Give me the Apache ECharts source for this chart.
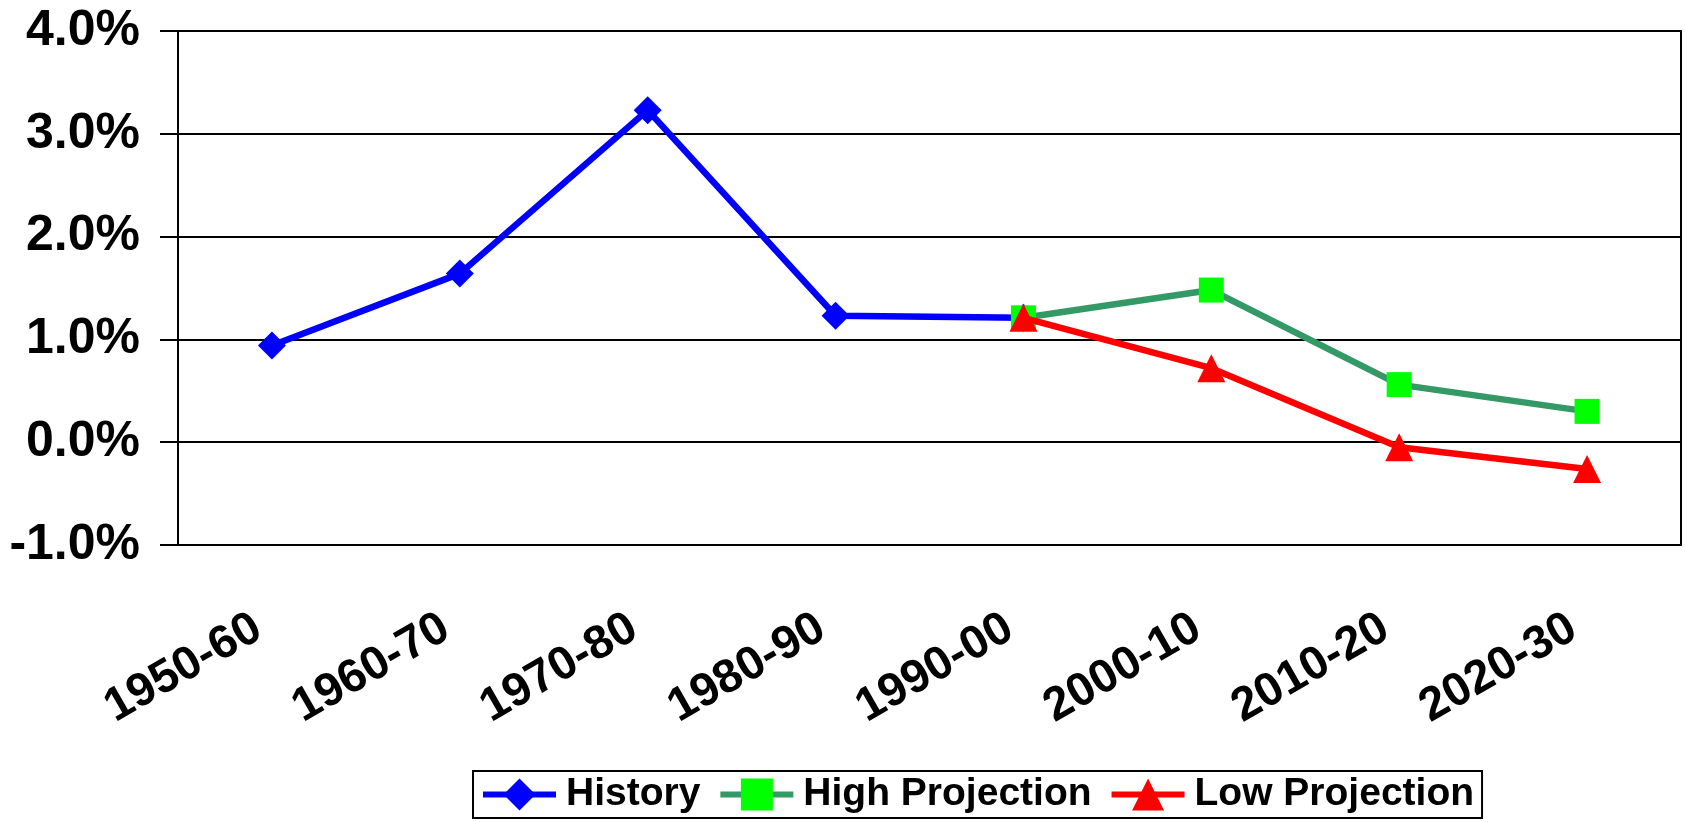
<!DOCTYPE html>
<html>
<head>
<meta charset="utf-8">
<script src="https://cdn.jsdelivr.net/npm/echarts@6/dist/echarts.min.js"></script>
<style>
html,body{margin:0;padding:0;background:#fff;}
#chart{width:1685px;height:822px;}
</style>
</head>
<body>
<div id="chart"></div>
<script>
const categories = ['1950-60','1960-70','1970-80','1980-90','1990-00','2000-10','2010-20','2020-30'];
const historyValues = [0.94, 1.64, 3.23, 1.23, 1.21, null, null, null];
const highValues = [null, null, null, null, 1.21, 1.48, 0.56, 0.30];
const lowValues = [null, null, null, null, 1.21, 0.72, -0.05, -0.26];
const seriesNames = ['History','High Projection','Low Projection'];

const FONT = 'Arial, "Liberation Sans", sans-serif';
const chart = echarts.init(document.getElementById('chart'));
chart.setOption({
  animation: false,
  backgroundColor: '#ffffff',
  grid: { left: 178, right: 4, top: 31, bottom: 277, show: true, borderColor: '#000', borderWidth: 2, backgroundColor: 'transparent' },
  legend: {
    data: seriesNames,
    left: 473, top: 771,
    padding: [4, 8, 4, 7],
    itemGap: 17,
    itemWidth: 73, itemHeight: 40,
    borderColor: '#000', borderWidth: 2,
    lineStyle: { width: 6 },
    textStyle: { fontFamily: FONT, fontWeight: 'bold', fontSize: 39, color: '#000', padding: [0,0,0,5] }
  },
  xAxis: {
    type: 'category',
    data: categories,
    boundaryGap: true,
    axisLine: { show: true, lineStyle: { color: '#000', width: 2 } },
    axisTick: { show: false },
    axisLabel: { interval: 0, rotate: 30, margin: 72, padding: [0, 16, 0, 0], fontFamily: FONT, fontWeight: 'bold', fontSize: 47, color: '#000' },
    splitLine: { show: false }
  },
  yAxis: {
    type: 'value',
    min: -1, max: 4, interval: 1,
    axisLine: { show: true, lineStyle: { color: '#000', width: 2 } },
    axisTick: { show: true, length: 18, lineStyle: { color: '#000', width: 2 } },
    axisLabel: { margin: 38, fontFamily: FONT, fontWeight: 'bold', fontSize: 50, color: '#000', formatter: v => v.toFixed(1) + '%' },
    splitLine: { show: true, lineStyle: { color: '#000', width: 2 } }
  },
  series: [
    { name: seriesNames[0], type: 'line', data: historyValues, z: 2,
      symbol: 'diamond', symbolSize: 28,
      lineStyle: { color: '#0000ff', width: 6.5 }, itemStyle: { color: '#0000ff' } },
    { name: seriesNames[1], type: 'line', data: highValues, z: 3,
      symbol: 'rect', symbolSize: 25,
      lineStyle: { color: '#339966', width: 6.5 }, itemStyle: { color: '#00ff00' } },
    { name: seriesNames[2], type: 'line', data: lowValues, z: 4,
      symbol: 'triangle', symbolSize: 28,
      lineStyle: { color: '#ff0000', width: 6.5 }, itemStyle: { color: '#ff0000' } }
  ]
});
</script>
</body>
</html>
